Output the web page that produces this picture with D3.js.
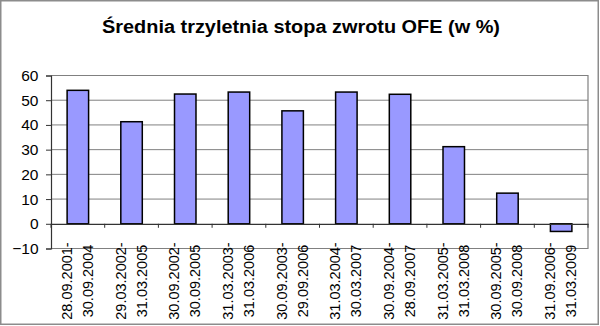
<!DOCTYPE html>
<html><head><meta charset="utf-8">
<script src="https://cdn.jsdelivr.net/npm/d3@7"></script>
<style>html,body{margin:0;padding:0;background:#fff;}svg{display:block;}</style>
</head><body>
<script>
const title = "Średnia trzyletnia stopa zwrotu OFE (w %)";
const startDates = ["28.09.2001-","29.03.2002-","30.09.2002-","31.03.2003-","30.09.2003-","31.03.2004-","30.09.2004-","31.03.2005-","30.09.2005-","31.09.2006-"];
const endDates = ["30.09.2004","31.03.2005","30.09.2005","31.03.2006","29.09.2006","30.03.2007","28.09.2007","31.03.2008","30.09.2008","31.03.2009"];
const values = [54.0, 41.3, 52.5, 53.3, 45.7, 53.3, 52.4, 31.2, 12.4, -3.1];
const yTicks = [-10, 0, 10, 20, 30, 40, 50, 60];

const W = 600, H = 326;
const pLeft = 51, pRight = 588, pTop = 75.5, pBottom = 248.5;
const FONT = "Arial, 'Liberation Sans', sans-serif";
const svg = d3.select("body").append("svg").attr("width", W).attr("height", H);

svg.append("rect").attr("x", 0.75).attr("y", 0.75).attr("width", W - 2.5).attr("height", H - 2.5)
  .attr("fill", "#fff").attr("stroke", "#8c8c8c").attr("stroke-width", 1.5);

svg.append("text").attr("x", 301).attr("y", 32.5).attr("text-anchor", "middle")
  .attr("font-family", FONT).attr("font-weight", "bold")
  .attr("font-size", 18).attr("textLength", 398).attr("lengthAdjust", "spacingAndGlyphs")
  .text(title);

const cats = d3.range(values.length);
const x = d3.scaleBand().domain(cats).range([pLeft, pRight]).paddingInner(0.6).paddingOuter(0.3);
const xb = d3.scaleBand().domain(cats).range([pLeft, pRight]);
const y = d3.scaleLinear().domain([-10, 60]).range([pBottom, pTop]);

// gridlines
svg.append("g").selectAll("line").data(yTicks.filter(t => t !== 0 && t !== -10)).join("line")
  .attr("x1", pLeft).attr("x2", pRight).attr("y1", d => y(d)).attr("y2", d => y(d))
  .attr("stroke", "#808080").attr("stroke-width", 1);

// plot frame
svg.append("path").attr("d", `M${pLeft},${pTop}H${pRight}V${pBottom}H${pLeft}`)
  .attr("fill", "none").attr("stroke", "#808080").attr("stroke-width", 1.2);

// bars
svg.append("g").selectAll("rect").data(values).join("rect")
  .attr("x", (d, i) => x(i)).attr("width", x.bandwidth())
  .attr("y", d => y(Math.max(0, d))).attr("height", d => Math.abs(y(d) - y(0)))
  .attr("fill", "#9999ff").attr("stroke", "#000").attr("stroke-width", 1.5);

// y axis
const yAxis = d3.axisLeft(y).tickValues(yTicks).tickSize(5).tickPadding(7.5);
const gy = svg.append("g").attr("transform", `translate(${pLeft},0)`).call(yAxis);
gy.select(".domain").attr("stroke", "#333").attr("stroke-width", 1.2);
gy.selectAll(".tick line").attr("stroke", "#333");
gy.selectAll("text").attr("font-family", FONT).attr("font-size", 15.5).attr("fill", "#000");

// zero axis with category ticks
const xAxis = d3.axisBottom(xb).tickSize(0).tickFormat("");
const gx = svg.append("g").attr("transform", `translate(0,${y(0)})`).call(xAxis);
gx.select(".domain").attr("stroke", "#333").attr("stroke-width", 1.2);
svg.append("g").selectAll("line").data(d3.range(values.length + 1)).join("line")
  .attr("x1", i => i < values.length ? xb(i) : pRight).attr("x2", i => i < values.length ? xb(i) : pRight)
  .attr("y1", y(0)).attr("y2", y(0) + 4).attr("stroke", "#333");

// category labels
const lab = svg.append("g").selectAll("g").data(cats).join("g")
  .attr("transform", i => `translate(${xb(i) + xb.bandwidth() / 2},281) rotate(-90)`);
lab.append("text").attr("x", 0).attr("y", -6).attr("text-anchor", "middle")
  .attr("font-family", FONT).attr("font-size", 14.5)
  .text(i => startDates[i]);
lab.append("text").attr("x", 0).attr("y", 15).attr("text-anchor", "middle")
  .attr("font-family", FONT).attr("font-size", 14.5)
  .text(i => endDates[i]);
</script>
</body></html>
